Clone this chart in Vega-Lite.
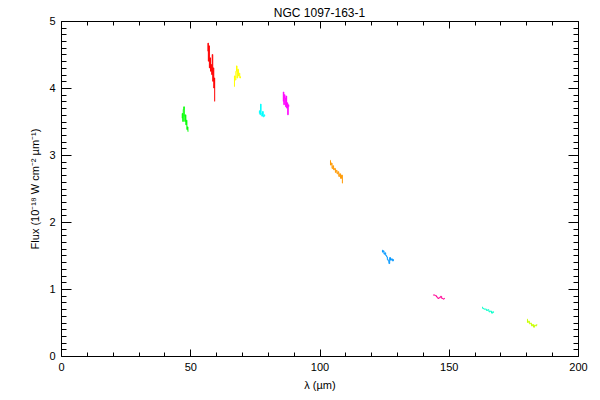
{
  "$schema": "https://vega.github.io/schema/vega-lite/v6.json",
  "width": 517,
  "height": 335,
  "autosize": {"type": "none"},
  "padding": {"left": 61, "top": 21, "right": 22, "bottom": 44},
  "background": "white",
  "title": {"text": "NGC 1097-163-1", "font": "Liberation Sans", "fontSize": 12, "fontWeight": "normal", "anchor": "middle", "offset": -5, "color": "black"},
  "config": {
    "view": {"stroke": null},
    "axis": {"domainColor": "black", "tickColor": "black", "labelColor": "black", "titleColor": "black", "labelFont": "Liberation Sans", "titleFont": "Liberation Sans", "labelFontSize": 11, "titleFontSize": 11, "titleFontWeight": "normal", "grid": false, "labelOverlap": false, "labelFlush": false, "domainWidth": 1, "tickWidth": 1}
  },
  "data": {"values": [
    {"seg": "a", "lam": 46.8, "flux": 3.55}, {"seg": "a", "lam": 47.0, "flux": 3.62}, {"seg": "a", "lam": 47.2, "flux": 3.5}, {"seg": "a", "lam": 47.4, "flux": 3.68}, {"seg": "a", "lam": 47.6, "flux": 3.72}, {"seg": "a", "lam": 47.8, "flux": 3.58}, {"seg": "a", "lam": 48.0, "flux": 3.5}, {"seg": "a", "lam": 48.2, "flux": 3.6}, {"seg": "a", "lam": 48.4, "flux": 3.45}, {"seg": "a", "lam": 48.6, "flux": 3.52}, {"seg": "a", "lam": 48.8, "flux": 3.38}, {"seg": "a", "lam": 49.0, "flux": 3.42}, {"seg": "a", "lam": 49.2, "flux": 3.35},
    {"seg": "b", "lam": 56.8, "flux": 4.55}, {"seg": "b", "lam": 56.9, "flux": 4.67}, {"seg": "b", "lam": 57.1, "flux": 4.4}, {"seg": "b", "lam": 57.3, "flux": 4.63}, {"seg": "b", "lam": 57.5, "flux": 4.3}, {"seg": "b", "lam": 57.7, "flux": 4.45}, {"seg": "b", "lam": 58.0, "flux": 4.25}, {"seg": "b", "lam": 58.2, "flux": 4.35}, {"seg": "b", "lam": 58.4, "flux": 4.2}, {"seg": "b", "lam": 58.6, "flux": 4.5}, {"seg": "b", "lam": 58.8, "flux": 4.1}, {"seg": "b", "lam": 59.0, "flux": 4.3}, {"seg": "b", "lam": 59.2, "flux": 4.0}, {"seg": "b", "lam": 59.4, "flux": 4.15}, {"seg": "b", "lam": 59.5, "flux": 3.8},
    {"seg": "c", "lam": 67.0, "flux": 4.02}, {"seg": "c", "lam": 67.2, "flux": 4.18}, {"seg": "c", "lam": 67.5, "flux": 4.12}, {"seg": "c", "lam": 67.8, "flux": 4.25}, {"seg": "c", "lam": 68.0, "flux": 4.33}, {"seg": "c", "lam": 68.2, "flux": 4.15}, {"seg": "c", "lam": 68.5, "flux": 4.28}, {"seg": "c", "lam": 68.8, "flux": 4.18}, {"seg": "c", "lam": 69.0, "flux": 4.22}, {"seg": "c", "lam": 69.3, "flux": 4.15}, {"seg": "c", "lam": 69.6, "flux": 4.17},
    {"seg": "d", "lam": 76.6, "flux": 3.62}, {"seg": "d", "lam": 76.9, "flux": 3.66}, {"seg": "d", "lam": 77.1, "flux": 3.6}, {"seg": "d", "lam": 77.3, "flux": 3.76}, {"seg": "d", "lam": 77.5, "flux": 3.62}, {"seg": "d", "lam": 77.8, "flux": 3.58}, {"seg": "d", "lam": 78.1, "flux": 3.65}, {"seg": "d", "lam": 78.4, "flux": 3.57}, {"seg": "d", "lam": 78.7, "flux": 3.6}, {"seg": "d", "lam": 78.9, "flux": 3.58},
    {"seg": "e", "lam": 85.9, "flux": 3.8}, {"seg": "e", "lam": 86.1, "flux": 3.94}, {"seg": "e", "lam": 86.3, "flux": 3.75}, {"seg": "e", "lam": 86.5, "flux": 3.9}, {"seg": "e", "lam": 86.8, "flux": 3.85}, {"seg": "e", "lam": 87.0, "flux": 3.72}, {"seg": "e", "lam": 87.2, "flux": 3.88}, {"seg": "e", "lam": 87.4, "flux": 3.7}, {"seg": "e", "lam": 87.6, "flux": 3.78}, {"seg": "e", "lam": 87.8, "flux": 3.6}, {"seg": "e", "lam": 88.0, "flux": 3.75}, {"seg": "e", "lam": 88.2, "flux": 3.72},
    {"seg": "f", "lam": 104.1, "flux": 2.92}, {"seg": "f", "lam": 104.4, "flux": 2.85}, {"seg": "f", "lam": 104.7, "flux": 2.88}, {"seg": "f", "lam": 105.0, "flux": 2.8}, {"seg": "f", "lam": 105.3, "flux": 2.84}, {"seg": "f", "lam": 105.6, "flux": 2.78}, {"seg": "f", "lam": 106.0, "flux": 2.8}, {"seg": "f", "lam": 106.3, "flux": 2.74}, {"seg": "f", "lam": 106.6, "flux": 2.77}, {"seg": "f", "lam": 107.0, "flux": 2.72}, {"seg": "f", "lam": 107.3, "flux": 2.75}, {"seg": "f", "lam": 107.6, "flux": 2.68}, {"seg": "f", "lam": 108.0, "flux": 2.72}, {"seg": "f", "lam": 108.3, "flux": 2.65}, {"seg": "f", "lam": 108.7, "flux": 2.7}, {"seg": "f", "lam": 109.0, "flux": 2.58},
    {"seg": "g", "lam": 124.2, "flux": 1.58}, {"seg": "g", "lam": 124.5, "flux": 1.55}, {"seg": "g", "lam": 124.8, "flux": 1.57}, {"seg": "g", "lam": 125.1, "flux": 1.52}, {"seg": "g", "lam": 125.4, "flux": 1.54}, {"seg": "g", "lam": 125.8, "flux": 1.5}, {"seg": "g", "lam": 126.1, "flux": 1.48}, {"seg": "g", "lam": 126.4, "flux": 1.44}, {"seg": "g", "lam": 126.7, "flux": 1.42}, {"seg": "g", "lam": 127.0, "flux": 1.38}, {"seg": "g", "lam": 127.3, "flux": 1.47}, {"seg": "g", "lam": 127.6, "flux": 1.43}, {"seg": "g", "lam": 128.0, "flux": 1.45}, {"seg": "g", "lam": 128.4, "flux": 1.42}, {"seg": "g", "lam": 128.8, "flux": 1.44},
    {"seg": "h", "lam": 143.9, "flux": 0.91}, {"seg": "h", "lam": 144.5, "flux": 0.91}, {"seg": "h", "lam": 145.0, "flux": 0.9}, {"seg": "h", "lam": 145.5, "flux": 0.88}, {"seg": "h", "lam": 146.0, "flux": 0.86}, {"seg": "h", "lam": 146.5, "flux": 0.87}, {"seg": "h", "lam": 147.0, "flux": 0.89}, {"seg": "h", "lam": 147.5, "flux": 0.86}, {"seg": "h", "lam": 148.0, "flux": 0.85}, {"seg": "h", "lam": 148.5, "flux": 0.86},
    {"seg": "i", "lam": 162.9, "flux": 0.73}, {"seg": "i", "lam": 163.3, "flux": 0.71}, {"seg": "i", "lam": 163.8, "flux": 0.7}, {"seg": "i", "lam": 164.3, "flux": 0.7}, {"seg": "i", "lam": 164.8, "flux": 0.68}, {"seg": "i", "lam": 165.3, "flux": 0.69}, {"seg": "i", "lam": 165.8, "flux": 0.66}, {"seg": "i", "lam": 166.3, "flux": 0.67}, {"seg": "i", "lam": 166.8, "flux": 0.64}, {"seg": "i", "lam": 167.2, "flux": 0.66}, {"seg": "i", "lam": 167.5, "flux": 0.65},
    {"seg": "j", "lam": 180.3, "flux": 0.55}, {"seg": "j", "lam": 180.6, "flux": 0.5}, {"seg": "j", "lam": 181.0, "flux": 0.52}, {"seg": "j", "lam": 181.4, "flux": 0.48}, {"seg": "j", "lam": 181.8, "flux": 0.49}, {"seg": "j", "lam": 182.2, "flux": 0.45}, {"seg": "j", "lam": 182.6, "flux": 0.47}, {"seg": "j", "lam": 183.0, "flux": 0.43}, {"seg": "j", "lam": 183.4, "flux": 0.46}, {"seg": "j", "lam": 183.8, "flux": 0.45}, {"seg": "j", "lam": 184.2, "flux": 0.47}
  ]},
  "layer": [
    {
      "mark": {"type": "line", "interpolate": "step", "strokeWidth": 1},
      "encoding": {
        "x": {"field": "lam", "type": "quantitative", "scale": {"domain": [0, 200], "nice": false, "zero": false},
          "axis": {"orient": "bottom", "title": "λ (µm)", "titlePadding": 4,
            "values": [0,10,20,30,40,50,60,70,80,90,100,110,120,130,140,150,160,170,180,190,200],
            "labelExpr": "datum.value % 50 === 0 ? datum.label : ''",
            "tickSize": {"condition": {"test": "datum.value % 50 === 0", "value": -7}, "value": -4},
            "labelPadding": 12}},
        "y": {"field": "flux", "type": "quantitative", "scale": {"domain": [0, 5], "nice": false, "zero": false},
          "axis": {"orient": "left", "title": "Flux (10⁻¹⁸ W cm⁻² µm⁻¹)", "titlePadding": 8,
            "values": [0,0.1,0.2,0.3,0.4,0.5,0.6,0.7,0.8,0.9,1,1.1,1.2,1.3,1.4,1.5,1.6,1.7,1.8,1.9,2,2.1,2.2,2.3,2.4,2.5,2.6,2.7,2.8,2.9,3,3.1,3.2,3.3,3.4,3.5,3.6,3.7,3.8,3.9,4,4.1,4.2,4.3,4.4,4.5,4.6,4.7,4.8,4.9,5],
            "labelExpr": "abs(datum.value - round(datum.value)) < 0.001 ? format(datum.value, 'd') : ''",
            "tickSize": {"condition": {"test": "abs(datum.value - round(datum.value)) < 0.001", "value": -10}, "value": -5},
            "labelPadding": 16}},
        "color": {"field": "seg", "type": "nominal", "legend": null,
          "scale": {"domain": ["a","b","c","d","e","f","g","h","i","j"],
            "range": ["#00ff00","#ff0000","#ffff00","#00ffff","#ff00ff","#ff9900","#0096ff","#ff0096","#00ffc8","#c8ff00"]}}
      }
    },
    {
      "mark": {"type": "point", "opacity": 0},
      "encoding": {
        "x": {"field": "lam", "type": "quantitative", "scale": {"domain": [0, 200], "nice": false, "zero": false},
          "axis": {"orient": "top", "title": null, "labels": false,
            "values": [0,10,20,30,40,50,60,70,80,90,100,110,120,130,140,150,160,170,180,190,200],
            "tickSize": {"condition": {"test": "datum.value % 50 === 0", "value": -7}, "value": -4}}},
        "y": {"field": "flux", "type": "quantitative", "scale": {"domain": [0, 5], "nice": false, "zero": false},
          "axis": {"orient": "right", "title": null, "labels": false,
            "values": [0,0.1,0.2,0.3,0.4,0.5,0.6,0.7,0.8,0.9,1,1.1,1.2,1.3,1.4,1.5,1.6,1.7,1.8,1.9,2,2.1,2.2,2.3,2.4,2.5,2.6,2.7,2.8,2.9,3,3.1,3.2,3.3,3.4,3.5,3.6,3.7,3.8,3.9,4,4.1,4.2,4.3,4.4,4.5,4.6,4.7,4.8,4.9,5],
            "tickSize": {"condition": {"test": "abs(datum.value - round(datum.value)) < 0.001", "value": -10}, "value": -5}}}
      }
    }
  ],
  "resolve": {"axis": {"x": "independent", "y": "independent"}}
}
